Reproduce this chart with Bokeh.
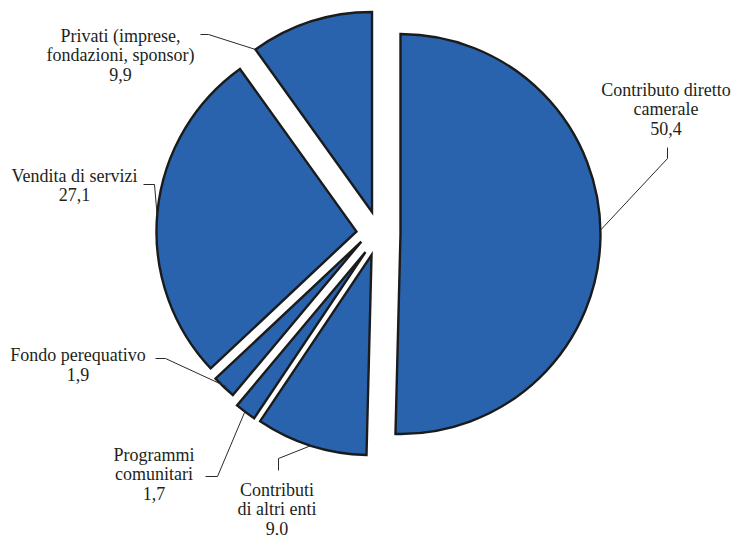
import numpy as np
from bokeh.plotting import figure
from bokeh.models import Range1d, ColumnDataSource
from bokeh.embed import file_html
from bokeh.resources import INLINE
from bokeh.core.properties import value

# ---------------- data ----------------
categories = ["Contributo diretto camerale", "Contributi di altri enti", "Programmi comunitari",
              "Fondo perequativo", "Vendita di servizi", "Privati (imprese, fondazioni, sponsor)"]
values = [50.4, 9.0, 1.7, 1.9, 27.1, 9.9]
value_labels = ["50,4", "9,0", "1,7", "1,9", "27,1", "9,9"]
label_lines = [["Contributo diretto", "camerale"],
               ["Contributi", "di altri enti"],
               ["Programmi", "comunitari"],
               ["Fondo perequativo"],
               ["Vendita di servizi"],
               ["Privati (imprese,", "fondazioni, sponsor)"]]

# ---------------- layout (screen pixel space of the page) ----------------
PAGE_H = 535
W, H = 734, 535
CX, CY_S = 378.5, 233.0        # pie centre (screen)
R = 200.0                      # radius
# per-slice explosion: distance and turn (deg) relative to slice bisector
explode_dist = [21.5, 22.8, 23.0, 19.5, 22.6, 22.6]
explode_turn = [0.6, 1.5, -0.9, 21.7, -0.5, -0.2]
LINE_H = 19.4
TEXT_SHIFT = -6.5
FONT = "Liberation Serif"
FONT_SIZE = "18px"
TEXT_COLOR = "#231f20"
FILL = "#2963ad"
EDGE = "#1b1b1b"

# label block: centre x, first baseline (screen y)
label_pos = [(665.5, 95.5), (276.5, 495.8), (153.5, 460.5), (77.5, 361.0), (74.0, 181.5), (120.0, 42.0)]
# leader line: label-side point and elbow (screen), anchor fraction along slice and radius fraction
leader_start = [(667, 147), (278, 470), (205, 476), (155, 358), (143, 184), (200, 34)]
leader_elbow = [(667, 158), (278, 458), (217, 476), (165, 358), (154, 184), (208, 34)]
anchor_frac = [0.49, 0.5, 0.53, 0.44, 0.49, 0.0]
anchor_rad = [1.0, 1.0, 1.0, 0.99, 1.0, 1.0]


def sy(y):
    return PAGE_H - y


CY = sy(CY_S)

vals = np.array(values, dtype=float)
fr = vals / vals.sum()
t1 = np.cumsum(fr) * 360.0
t0 = t1 - fr * 360.0
mid = (t0 + t1) / 2.0
edir = np.radians(mid + np.array(explode_turn))
ed = np.array(explode_dist)

ax = CX + ed * np.sin(edir)
ay = CY + ed * np.cos(edir)

src = ColumnDataSource(dict(
    x=ax, y=ay,
    start=np.radians(90.0 - t1),
    end=np.radians(90.0 - t0),
    cat=categories,
))

p = figure(width=W, height=H, output_backend="svg", toolbar_location=None,
           x_range=Range1d(0, W), y_range=Range1d(PAGE_H - H, PAGE_H),
           min_border=0, background_fill_color="white", border_fill_color="white")
p.outline_line_color = None
p.axis.visible = False
p.grid.visible = False

p.wedge(x="x", y="y", radius=R, start_angle="start", end_angle="end", direction="anticlock",
        source=src, fill_color=FILL, line_color=EDGE, line_width=2.4, line_join="miter")

# leader lines
xs, ys = [], []
for i in range(len(values)):
    a = t0[i] + anchor_frac[i] * (t1[i] - t0[i])
    px = ax[i] + R * anchor_rad[i] * np.sin(np.radians(a))
    py = ay[i] + R * anchor_rad[i] * np.cos(np.radians(a))
    xs.append([leader_start[i][0], leader_elbow[i][0], px])
    ys.append([sy(leader_start[i][1]), sy(leader_elbow[i][1]), py])
p.multi_line(xs=xs, ys=ys, line_color="#2a2a2a", line_width=1)

# labels
tx, ty, tt = [], [], []
for i in range(len(values)):
    lines = label_lines[i] + [value_labels[i]]
    for j, s in enumerate(lines):
        tx.append(label_pos[i][0])
        ty.append(sy(label_pos[i][1] + j * LINE_H + TEXT_SHIFT))
        tt.append(s)
p.text(x=tx, y=ty, text=tt, text_align="center", text_baseline="alphabetic",
       text_font=value(FONT), text_font_size=FONT_SIZE, text_color=TEXT_COLOR)

open("out.html", "w").write(file_html(p, INLINE))
